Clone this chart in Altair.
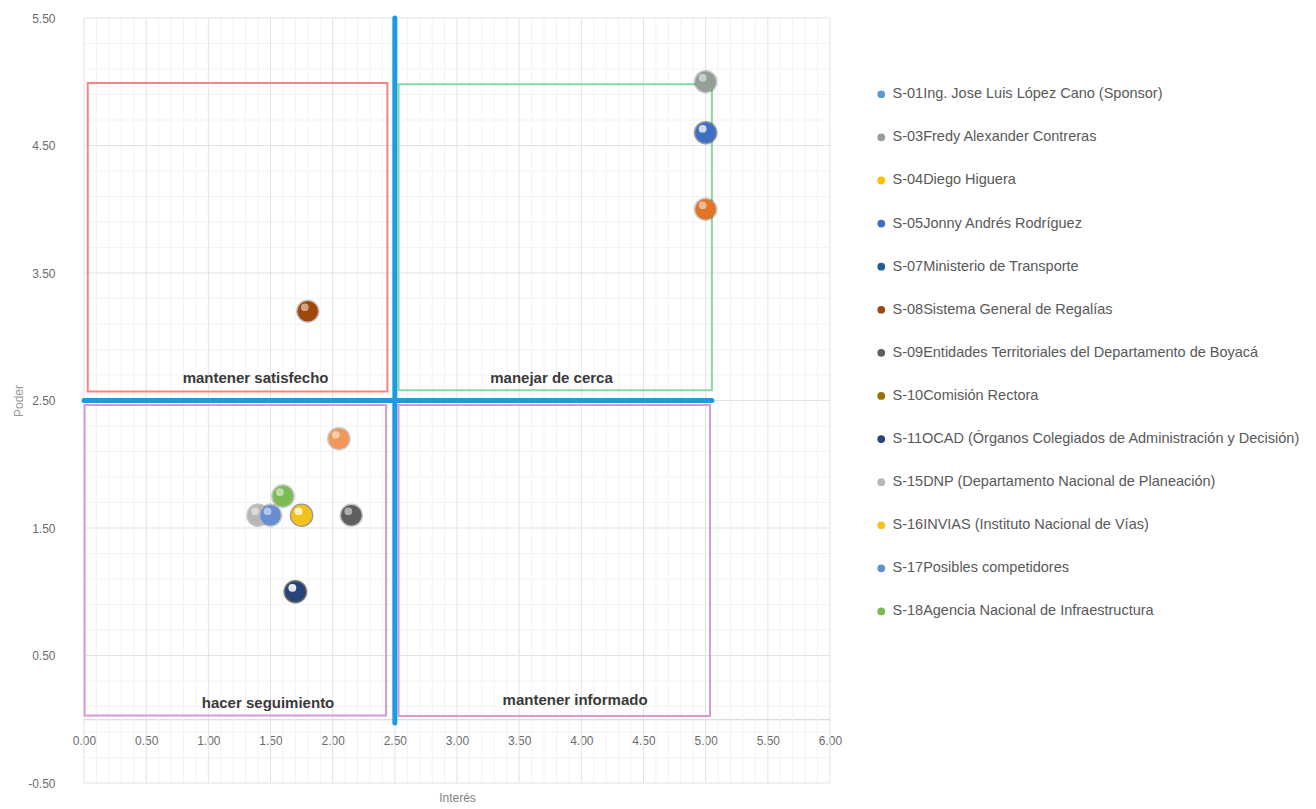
import altair as alt
import pandas as pd

# ---------------- data ----------------
SERIES = [
    "S-01Ing. Jose Luis López Cano (Sponsor)",
    "S-02",
    "S-03Fredy Alexander Contreras",
    "S-04Diego Higuera",
    "S-05Jonny Andrés Rodríguez",
    "S-07Ministerio de Transporte",
    "S-08Sistema General de Regalías",
    "S-09Entidades Territoriales del Departamento de Boyacá",
    "S-10Comisión Rectora",
    "S-11OCAD (Órganos Colegiados de Administración y Decisión)",
    "S-14",
    "S-15DNP (Departamento Nacional de Planeación)",
    "S-16INVIAS (Instituto Nacional de Vías)",
    "S-17Posibles competidores",
    "S-18Agencia Nacional de Infraestructura",
]
INTERES = [5.0, 5.0, 5.0, 1.75, 5.0, 1.7, 1.8, 2.15, 1.7, 1.7, 2.05, 1.4, 1.75, 1.5, 1.6]
PODER = [4.6, 4.0, 5.0, 1.6, 4.6, 1.0, 3.2, 1.6, 1.0, 1.0, 2.2, 1.6, 1.6, 1.6, 1.75]
COLORS = ["#5B9BD5", "#E07528", "#93A096", "#FFC000", "#3F6FC4", "#255E91", "#9E480E",
          "#5E5E5E", "#997300", "#264478", "#F1975A", "#B7B7B7", "#F5C21B", "#698ED0", "#7DBB55"]
LEGEND_ENTRIES = [s for s in SERIES if s not in ("S-02", "S-14")]

X_TICKS = [0.0, 0.5, 1.0, 1.5, 2.0, 2.5, 3.0, 3.5, 4.0, 4.5, 5.0, 5.5, 6.0]
Y_TICKS = [-0.5, 0.5, 1.5, 2.5, 3.5, 4.5, 5.5]
X_MINOR = [round(i * 0.1, 2) for i in range(0, 61) if i % 5 != 0]
Y_MINOR = [round(-0.5 + i * 0.2, 2) for i in range(0, 31) if i % 5 != 0]

QUAD_NAMES = ["mantener satisfecho", "manejar de cerca", "hacer seguimiento", "mantener informado"]
QUAD_X1 = [0.03, 2.53, 0.005, 2.53]
QUAD_X2 = [2.44, 5.05, 2.43, 5.035]
QUAD_Y1 = [2.57, 2.58, 0.03, 0.025]
QUAD_Y2 = [4.99, 4.98, 2.465, 2.465]
QUAD_COLORS = ["#F08686", "#86D9A2", "#D49BD8", "#D49BD8"]
LABEL_X = [1.38, 3.76, 1.48, 3.95]
LABEL_Y = [2.68, 2.68, 0.13, 0.15]

DIV_X1 = [2.5, 0.0]
DIV_X2 = [2.5, 5.05]
DIV_Y1 = [-0.03, 2.5]
DIV_Y2 = [5.5, 2.5]

W, H = 746, 765

points = pd.DataFrame({"serie": SERIES, "interes": INTERES, "poder": PODER})
quads = pd.DataFrame({"name": QUAD_NAMES, "x1": QUAD_X1, "x2": QUAD_X2, "y1": QUAD_Y1,
                      "y2": QUAD_Y2, "c": QUAD_COLORS, "lx": LABEL_X, "ly": LABEL_Y})
divs = pd.DataFrame({"x1": DIV_X1, "x2": DIV_X2, "y1": DIV_Y1, "y2": DIV_Y2})

xscale = alt.Scale(domain=[0, 6], nice=False, zero=False)
yscale = alt.Scale(domain=[-0.5, 5.5], nice=False, zero=False)
FONT = "Liberation Sans"
LABEL_EXPR = "replace(format(datum.value, '.2f'), '\u2212', '-')"
xaxis = alt.Axis(values=X_TICKS, labelExpr=LABEL_EXPR, grid=False, ticks=False, domain=True,
                 domainColor="#D0D0D0", domainWidth=1, offset=-H / 12, labelFlush=False,
                 labelPadding=16, labelFontSize=12, labelColor="#6B6B6B", labelFont=FONT,
                 title="Interés", titleFontSize=12, titleFontWeight="normal",
                 titleColor="#7F7F7F", titleFont=FONT, titlePadding=46)
yaxis = alt.Axis(values=Y_TICKS, labelExpr=LABEL_EXPR, grid=False, ticks=False, domain=False,
                 labelFlush=False,
                 labelPadding=29, labelFontSize=12, labelColor="#6B6B6B", labelFont=FONT,
                 title="Poder", titleFontSize=12, titleFontWeight="normal",
                 titleColor="#9A9A9A", titleFont=FONT, titlePadding=2)


def X(f):
    return alt.X(f, type="quantitative", scale=xscale, axis=xaxis)


def Y(f):
    return alt.Y(f, type="quantitative", scale=yscale, axis=yaxis)


vminor = alt.Chart(pd.DataFrame({"v": X_MINOR})).mark_rule(color="#F3F3F3", strokeWidth=1).encode(
    x=X("v"), y=alt.value(0), y2=alt.value(H))
vmajor = alt.Chart(pd.DataFrame({"v": X_TICKS})).mark_rule(color="#E3E3E3", strokeWidth=1).encode(
    x=X("v"), y=alt.value(0), y2=alt.value(H))
hminor = alt.Chart(pd.DataFrame({"v": Y_MINOR})).mark_rule(color="#F3F3F3", strokeWidth=1).encode(
    y=Y("v"), x=alt.value(0), x2=alt.value(W))
hmajor = alt.Chart(pd.DataFrame({"v": Y_TICKS})).mark_rule(color="#E3E3E3", strokeWidth=1).encode(
    y=Y("v"), x=alt.value(0), x2=alt.value(W))

rects = alt.Chart(quads).mark_rect(fillOpacity=0, strokeWidth=2).encode(
    x=X("x1"), x2="x2", y=Y("y1"), y2="y2",
    stroke=alt.Stroke("c:N", scale=None))

dividers = alt.Chart(divs).mark_rule(color="#1A9BE2", strokeWidth=5, strokeCap="round").encode(
    x=X("x1"), x2="x2", y=Y("y1"), y2="y2")

labels = alt.Chart(quads).mark_text(font=FONT, fontSize=15, fontWeight="bold",
                                    color="#3A3A3A", align="center", baseline="middle").encode(
    x=X("lx"), y=Y("ly"), text="name:N")

shadow = alt.Chart(points).mark_circle(size=560, color="#000000", opacity=0.22).encode(
    x=X("interes"), y=Y("poder"))

dots = alt.Chart(points).mark_circle(size=430, opacity=1).encode(
    x=X("interes"), y=Y("poder"),
    color=alt.Color("serie:N", sort=SERIES,
                    scale=alt.Scale(domain=SERIES, range=COLORS),
                    legend=alt.Legend(values=LEGEND_ENTRIES, title=None, orient="none",
                                      legendX=790, legendY=69, padding=0,
                                      symbolType="circle", symbolSize=60,
                                      symbolStrokeWidth=0, labelFont=FONT,
                                      labelFontSize=14.5, labelColor="#595959",
                                      labelLimit=460, labelOffset=4, rowPadding=28.1)))

highlight = alt.Chart(points).mark_circle(size=60, color="#FFFFFF", opacity=0.5,
                                           xOffset=-3, yOffset=-4).encode(
    x=X("interes"), y=Y("poder"))

chart = alt.layer(vminor, hminor, vmajor, hmajor, rects, dividers, labels,
                  shadow, dots, highlight).properties(
    width=W, height=H, background="white",
    autosize=alt.AutoSizeParams(type="none"),
    padding={"left": 84, "top": 18, "right": 486, "bottom": 26},
).configure_view(stroke=None)

chart.save("out.html", embed_options={"renderer": "svg", "actions": False})
